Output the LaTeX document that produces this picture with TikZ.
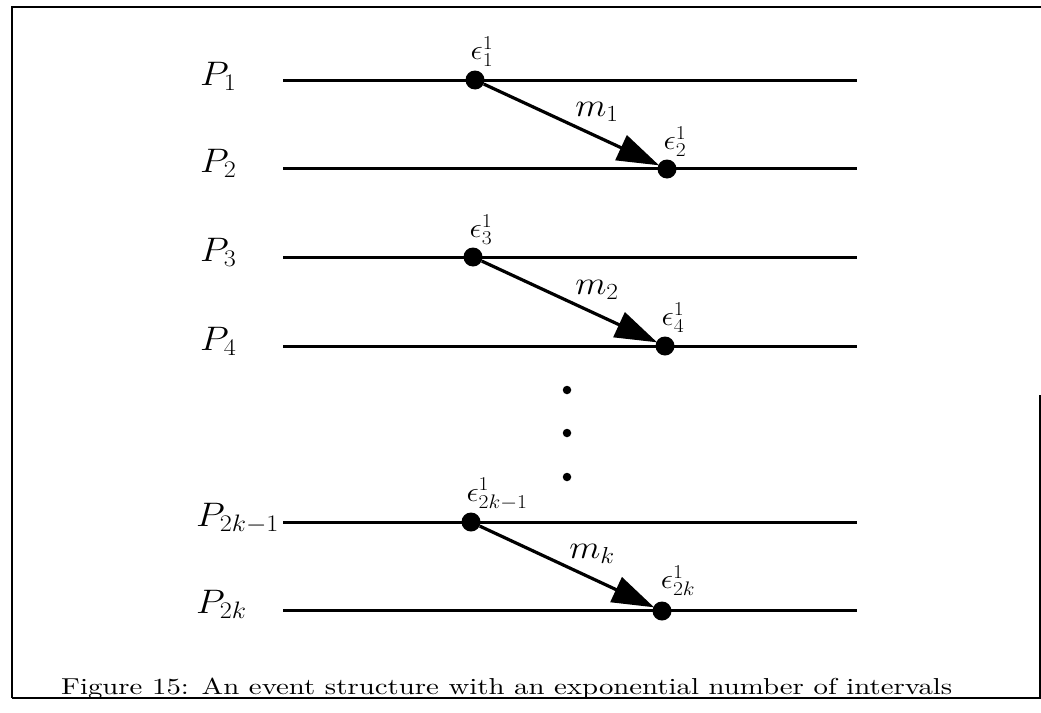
\RequirePackage{fix-cm}
\documentclass[tikz,border=0pt]{standalone}
\usepackage{graphicx}
\usetikzlibrary{arrows.meta}
\newcommand{\hwide}[1]{\scalebox{1.1}[1]{#1}}
\tikzset{
  proc/.style={line width=3pt},
  frame/.style={line width=1.8pt},
  ev/.style={circle,fill=black,inner sep=0pt,minimum size=19pt},
  sdot/.style={circle,fill=black,inner sep=0pt,minimum size=8.5pt},
  msg/.style={line width=3.2pt,-{Triangle[length=42pt,width=27pt]},shorten >=-1pt},
  plabel/.style={anchor=base west,inner sep=0pt,font=\fontsize{34}{38}\selectfont},
  elabel/.style={inner sep=0pt,font=\fontsize{28}{32}\selectfont},
  mlabel/.style={inner sep=0pt,font=\fontsize{33}{37}\selectfont}
}
\begin{document}
\begin{tikzpicture}[x=1pt,y=-1pt]
\useasboundingbox (0,0) rectangle (1041,712);
% frame
\coordinate (f1) at (12,698);
\coordinate (f2) at (12,7);
\coordinate (f3) at (1041,7);
\coordinate (f4) at (1040,395);
\coordinate (f5) at (1040,698);
\draw[frame] (f1) -- (f2) -- (f3);
\draw[frame] (f4) -- (f5) -- (f1);
% process lines
\foreach \n/\y in {1/80,2/168,3/257,4/346,5/522,6/610}{
  \coordinate (ls\n) at (283,\y);
  \coordinate (le\n) at (857,\y);
  \draw[proc] (ls\n) -- (le\n);
}
% process labels
\node[plabel] (p1) at (200,85) {\hwide{$P_1$}};
\node[plabel] (p2) at (200,172) {\hwide{$P_2$}};
\node[plabel] (p3) at (200,261) {\hwide{$P_3$}};
\node[plabel] (p4) at (200,350) {\hwide{$P_4$}};
\node[plabel] (p5) at (196,526) {\hwide{$P_{2k-1}$}};
\node[plabel] (p6) at (196,613) {\hwide{$P_{2k}$}};
% events
\node[ev] (e1) at (475,80) {};
\node[ev] (e2) at (667,169) {};
\node[ev] (e3) at (473,257) {};
\node[ev] (e4) at (665,346) {};
\node[ev] (e5) at (471,522) {};
\node[ev] (e6) at (662,611) {};
% event labels
\node[elabel] (t1) at (482,52) {\hwide{$\epsilon^1_1$}};
\node[elabel] (t2) at (675,142) {\hwide{$\epsilon^1_2$}};
\node[elabel] (t3) at (481,230) {\hwide{$\epsilon^1_3$}};
\node[elabel] (t4) at (673,318) {\hwide{$\epsilon^1_4$}};
\node[elabel] (t5) at (497,494) {\hwide{$\epsilon^1_{2k-1}$}};
\node[elabel] (t6) at (678,581) {\hwide{$\epsilon^1_{2k}$}};
% messages
\draw[msg] (e1) -- (e2);
\draw[msg] (e3) -- (e4);
\draw[msg] (e5) -- (e6);
\node[mlabel] (m1) at (597,112) {\hwide{$m_1$}};
\node[mlabel] (m2) at (597,290) {\hwide{$m_2$}};
\node[mlabel] (m3) at (592,554) {\hwide{$m_k$}};
% vertical dots
\node[sdot] (d1) at (567,390) {};
\node[sdot] (d2) at (567,433) {};
\node[sdot] (d3) at (567,477) {};
% caption
\node[anchor=base west,inner sep=0pt] (cap) at (61,694)
  {\resizebox{891pt}{16.5pt}{Figure 15: An event structure with an exponential number of intervals}};
\end{tikzpicture}
\end{document}
